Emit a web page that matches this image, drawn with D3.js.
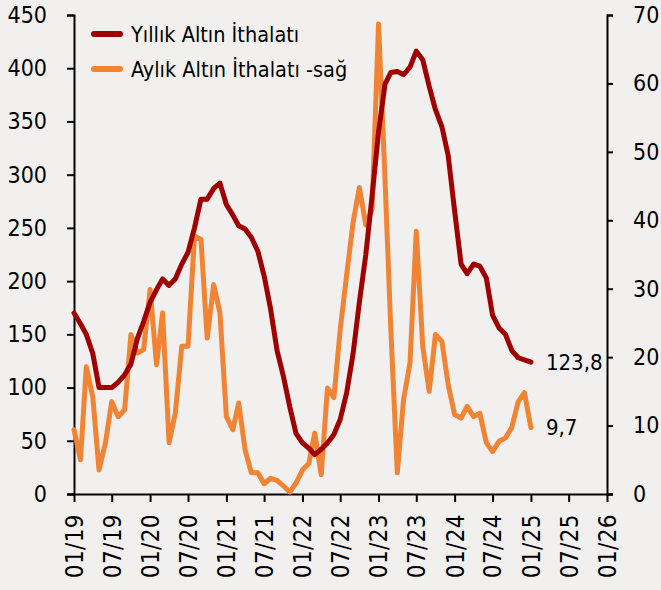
<!DOCTYPE html>
<html>
<head>
<meta charset="utf-8">
<script src="https://cdn.jsdelivr.net/npm/d3@7"></script>
<style>
  body { margin: 0; background: #f2f0ee; }
  svg { font-family: "DejaVu Sans Condensed", "DejaVu Sans", sans-serif; }
</style>
</head>
<body>
<svg id="chart"></svg>
<script>
// Series (monthly, starting 01/2019)
const startMonth = new Date(2019, 0, 1);
const yillik = [170, 160, 150, 132, 100, 100, 100, 105, 112, 122, 146, 162,
                180, 192, 202, 196, 202, 216, 227, 250, 277, 277, 287, 292,
                272, 262, 252, 249, 241, 228, 205, 174, 135, 111, 82, 57,
                48, 43, 37, 42, 48, 56, 70, 95, 132, 180, 225, 280,
                340, 385, 396, 397, 394, 401, 416, 408, 383, 361, 345, 318,
                266, 216, 207, 216, 214, 203, 168, 156, 150, 135, 128, 126,
                123.8];
const aylik = [9.4, 5.0, 18.6, 14.2, 3.5, 7.5, 13.5, 11.3, 12.3, 23.3, 20.6, 21.1,
               29.9, 18.9, 26.5, 7.5, 11.8, 21.6, 21.6, 37.7, 37.2, 22.8, 30.6, 26.5,
               11.3, 9.4, 13.3, 6.4, 3.1, 3.1, 1.5, 2.3, 2.0, 1.2, 0.3, 1.6,
               3.5, 4.5, 8.9, 2.8, 15.5, 14.1, 24, 32, 39.7, 44.8, 39.3, 41.6,
               68.7, 46, 24, 3.1, 13.8, 19.2, 38.4, 21.6, 15.0, 23.3, 22.3, 16.0,
               11.6, 11.1, 12.8, 11.3, 11.8, 7.5, 6.2, 7.7, 8.2, 9.7, 13.5, 14.8,
               9.7];
const seriesNames = ["Yıllık Altın İthalatı", "Aylık Altın İthalatı -sağ"];
const leftTicks = [0, 50, 100, 150, 200, 250, 300, 350, 400, 450];
const rightTicks = [0, 10, 20, 30, 40, 50, 60, 70];

const width = 661, height = 590;
const margin = {top: 15, bottom: 96, left: 74, right: 54};
const red = "#a00000", orange = "#f08434";

const svg = d3.select("#chart")
  .attr("width", width)
  .attr("height", height)
  .style("background", "#f2f0ee");

const dates = yillik.map((d, i) => d3.timeMonth.offset(startMonth, i));

const xScale = d3.scaleTime()
  .domain([new Date(2019, 0, 1), new Date(2026, 0, 1)])
  .range([margin.left, width - margin.right]);
const yLeft = d3.scaleLinear().domain([0, 450]).range([height - margin.bottom, margin.top]);
const yRight = d3.scaleLinear().domain([0, 70]).range([height - margin.bottom, margin.top]);

// Axes
const gL = svg.append("g")
  .attr("transform", `translate(${margin.left},0)`)
  .call(d3.axisLeft(yLeft).tickValues(leftTicks).tickSize(7).tickPadding(20));
const gR = svg.append("g")
  .attr("transform", `translate(${width - margin.right},0)`)
  .call(d3.axisRight(yRight).tickValues(rightTicks).tickSize(6).tickPadding(20));
const gX = svg.append("g")
  .attr("transform", `translate(0,${height - margin.bottom})`)
  .call(d3.axisBottom(xScale).ticks(d3.timeMonth.every(6)).tickFormat(d3.timeFormat("%m/%y")).tickSize(8));

[gL, gR, gX].forEach(g => {
  g.select(".domain").attr("stroke", "#000").attr("stroke-width", 2);
  g.selectAll(".tick line").attr("stroke", "#000").attr("stroke-width", 2);
  g.selectAll("text").attr("fill", "#000").style("font-size", "23px")
    .style("font-family", "'DejaVu Sans Condensed', 'DejaVu Sans', sans-serif");
});
gX.select(".domain").attr("d", `M${margin.left - 7},0.5H${width - margin.right + 6}`);
gX.selectAll("text")
  .attr("transform", "rotate(-90)")
  .attr("text-anchor", "end")
  .attr("x", -20)
  .attr("y", 0)
  .attr("dy", "0.35em")
  .style("font-size", "24px")
  .style("letter-spacing", "0.4px");

// Lines
const lineL = d3.line().x((d, i) => xScale(dates[i])).y(d => yLeft(d));
const lineR = d3.line().x((d, i) => xScale(dates[i])).y(d => yRight(d));

svg.append("path").datum(aylik)
  .attr("d", lineR).attr("fill", "none").attr("stroke", orange)
  .attr("stroke-width", 5).attr("stroke-linejoin", "round").attr("stroke-linecap", "round");
svg.append("path").datum(yillik)
  .attr("d", lineL).attr("fill", "none").attr("stroke", red)
  .attr("stroke-width", 5).attr("stroke-linejoin", "round").attr("stroke-linecap", "round");

// End labels
const fmt = v => String(v).replace(".", ",");
const last = dates.length - 1;
svg.append("text")
  .attr("x", xScale(dates[last]) + 15).attr("y", yLeft(yillik[last]))
  .attr("dy", "0.35em").style("font-size", "22px").text(fmt(yillik[last]));
svg.append("text")
  .attr("x", xScale(dates[last]) + 15).attr("y", yRight(aylik[last]))
  .attr("dy", "0.35em").style("font-size", "22px").text(fmt(aylik[last]));

// Legend
const legend = svg.append("g").attr("transform", "translate(92,34)");
[red, orange].forEach((c, i) => {
  const row = legend.append("g").attr("transform", `translate(0,${i * 35})`);
  row.append("line").attr("x1", 2).attr("x2", 28).attr("stroke", c)
    .attr("stroke-width", 6).attr("stroke-linecap", "round");
  row.append("text").attr("x", 39).attr("dy", "0.35em")
    .style("font-size", "21.5px").text(seriesNames[i]);
});
</script>
</body>
</html>
